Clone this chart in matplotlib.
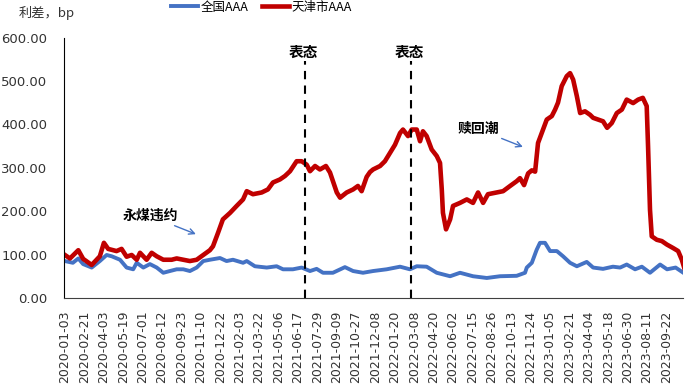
import matplotlib
matplotlib.use("Agg")
import matplotlib.pyplot as plt
from matplotlib.ticker import FormatStrFormatter

plt.rcParams["font.family"] = ["DejaVu Sans", "Noto Sans CJK SC"]
CJK = ["Noto Sans CJK SC", "DejaVu Sans"]

# x axis is categorical (trading days); positions below are in units of tick labels
tick_labels = [
    "2020-01-03", "2020-02-21", "2020-04-03", "2020-05-19", "2020-07-01",
    "2020-08-12", "2020-09-23", "2020-11-10", "2020-12-22", "2021-02-03",
    "2021-03-22", "2021-05-06", "2021-06-17", "2021-07-29", "2021-09-09",
    "2021-10-27", "2021-12-08", "2022-01-20", "2022-03-08", "2022-04-20",
    "2022-06-02", "2022-07-15", "2022-08-26", "2022-10-13", "2022-11-24",
    "2023-01-05", "2023-02-21", "2023-04-04", "2023-05-18", "2023-06-30",
    "2023-08-11", "2023-09-22",
]

# 天津市AAA spread (bp)
tj_pos = [
    0.00, 0.26, 0.69, 0.94, 1.38, 1.80, 2.01, 2.23, 2.66, 2.92, 3.18, 3.44,
    3.70, 3.87, 4.21, 4.47, 4.73, 5.07, 5.50, 5.76, 6.10, 6.44, 6.79, 7.13,
    7.47, 7.63, 7.89, 8.14, 8.51, 8.85, 9.18, 9.37, 9.69, 10.14, 10.46, 10.72,
    11.08, 11.34, 11.60, 11.94, 12.20, 12.46, 12.63, 12.89, 13.14, 13.45,
    13.66, 13.81, 14.01, 14.18, 14.52, 14.85, 15.10, 15.29, 15.55, 15.72,
    15.88, 16.24, 16.49, 16.75, 17.01, 17.27, 17.42, 17.68, 17.87, 18.13,
    18.30, 18.45, 18.64, 18.90, 19.16, 19.33, 19.42, 19.48, 19.64, 19.85,
    20.00, 20.36, 20.71, 21.03, 21.29, 21.55, 21.80, 22.25, 22.58, 22.94,
    23.28, 23.45, 23.66, 23.87, 24.06, 24.23, 24.38, 24.57, 24.83, 25.09,
    25.26, 25.41, 25.60, 25.86, 26.03, 26.19, 26.38, 26.55, 26.80, 27.06,
    27.22, 27.47, 27.73, 27.94, 28.18, 28.44, 28.70, 28.95, 29.28, 29.54,
    29.78, 29.98, 30.05, 30.15, 30.24, 30.50, 30.76, 31.02, 31.34, 31.60,
    31.79, 31.91,
]
tj_vals = [
    99, 91, 110, 90, 76, 96, 127, 113, 108, 113, 95, 99,
    88, 104, 88, 104, 96, 88, 88, 91, 88, 85, 88, 99,
    110, 119, 150, 181, 196, 212, 227, 246, 239, 243, 250, 266,
    273, 281, 292, 315, 315, 307, 292, 304, 296, 304,
    289, 269, 243, 231, 243, 250, 258, 246, 279, 290,
    296, 304, 315, 334, 353, 380, 388, 373, 388, 388,
    361, 384, 373, 342, 327, 311, 250, 196, 158, 181,
    212, 219, 227, 219, 243, 219, 239, 243, 246, 258,
    269, 276, 260, 287, 294, 291, 357, 380, 411, 419,
    434, 450, 488, 511, 518, 503, 465, 426, 430, 422,
    415, 411, 407, 392, 403, 426, 434, 457, 449, 457,
    461, 442, 349, 203, 142, 134, 131, 123, 115, 108,
    88, 70,
]

# 全国AAA spread (bp)
qg_pos = [
    0.00, 0.41, 0.69, 0.94, 1.38, 1.80, 2.15, 2.41, 2.84, 3.18, 3.52, 3.70,
    4.04, 4.38, 4.73, 5.07, 5.41, 5.76, 6.10, 6.44, 6.79, 7.13, 7.47, 7.99,
    8.33, 8.66, 9.18, 9.37, 9.79, 10.40, 10.91, 11.24, 11.75, 12.20, 12.63,
    12.97, 13.30, 13.81, 14.43, 14.85, 15.36, 15.88, 16.58, 17.27, 17.78,
    18.13, 18.64, 19.16, 19.85, 20.36, 21.03, 21.74, 22.42, 23.28, 23.71,
    23.80, 24.06, 24.31, 24.48, 24.74, 25.00, 25.35, 25.67, 26.03, 26.38,
    26.89, 27.22, 27.73, 28.24, 28.61, 28.95, 29.38, 29.73, 30.15, 30.67,
    31.03, 31.47, 31.87,
]
qg_vals = [
    85, 81, 91, 78, 70, 85, 99, 96, 88, 70, 66, 81,
    70, 78, 70, 58, 62, 66, 66, 62, 70, 85, 88, 92,
    85, 88, 81, 85, 73, 70, 73, 66, 66, 70, 62,
    67, 58, 58, 71, 62, 58, 62, 66, 72, 66,
    73, 72, 58, 50, 58, 50, 46, 50, 51, 58,
    70, 81, 111, 127, 127, 108, 108, 96, 81, 73,
    83, 70, 67, 72, 70, 77, 66, 72, 58, 77,
    66, 70, 58,
]

event_pos = [12.35, 17.85]   # 表态
event_label = "表态"

fig = plt.figure(figsize=(6.95, 3.91), dpi=100)
ax = fig.add_axes([0.092, 0.238, 0.891, 0.666])

ax.plot(qg_pos, qg_vals, color="#4472C4", lw=2.8, label="全国AAA",
        solid_joinstyle="round")
ax.plot(tj_pos, tj_vals, color="#C00000", lw=3.3, label="天津市AAA",
        solid_joinstyle="round")

for xp in event_pos:
    ax.vlines(xp, 0, 545, colors="black", linestyles=(0, (4, 3)), lw=1.5)
    ax.text(xp - 0.08, 567, event_label, ha="center", va="center",
            fontsize=10.5, family=CJK, fontweight="bold")

ax.annotate("永煤违约", xy=(6.75, 147), xytext=(4.38, 189),
            ha="center", va="center", fontsize=10, family=CJK,
            fontweight="bold",
            arrowprops=dict(arrowstyle="->", color="#4472C4", lw=1.0,
                            shrinkA=24, shrinkB=0))
ax.annotate("赎回潮", xy=(23.6, 348), xytext=(21.29, 389),
            ha="center", va="center", fontsize=10, family=CJK,
            fontweight="bold",
            arrowprops=dict(arrowstyle="->", color="#4472C4", lw=1.0,
                            shrinkA=20, shrinkB=0))

ax.set_xlim(-0.05, 31.86)
ax.set_ylim(0, 600)
ax.set_yticks(range(0, 601, 100))
ax.yaxis.set_major_formatter(FormatStrFormatter("%.2f"))
ax.set_xticks(range(len(tick_labels)))
ax.set_xticklabels(tick_labels, rotation=90)
ax.tick_params(axis="y", length=0, pad=12, labelsize=9.5, labelcolor="#333333")
ax.tick_params(axis="x", length=0, pad=9, labelsize=9, labelcolor="#333333")
for side in ["top", "right"]:
    ax.spines[side].set_visible(False)
ax.spines["left"].set_color("black")
ax.spines["bottom"].set_color("#404040")

fig.text(0.027, 0.968, "利差，bp", ha="left", va="center", fontsize=9.5,
         family=CJK, color="#333333")
fig.legend(loc="upper center", bbox_to_anchor=(0.376, 1.027), ncol=2,
           frameon=False, handlelength=2.2, columnspacing=1.1,
           handletextpad=0.15, prop={"family": CJK, "size": 9})

fig.savefig("out.png", dpi=100)
